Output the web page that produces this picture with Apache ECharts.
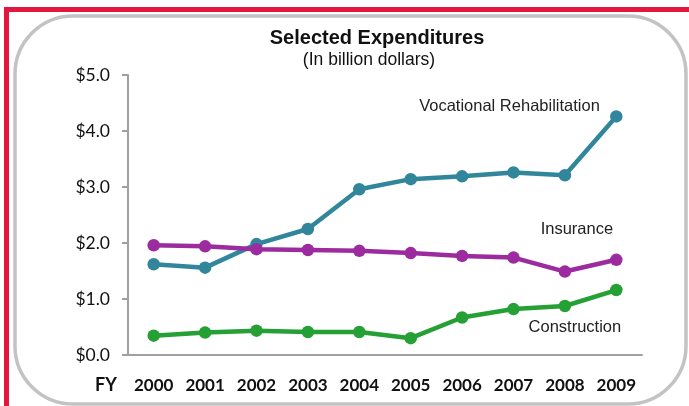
<!DOCTYPE html>
<html>
<head>
<meta charset="utf-8">
<script src="https://cdn.jsdelivr.net/npm/echarts@6/dist/echarts.min.js"></script>
<style>
html,body{margin:0;padding:0;background:#fff;}
#c{width:689px;height:406px;}
</style>
</head>
<body>
<div id="c"></div>
<script>
var years = ['2000','2001','2002','2003','2004','2005','2006','2007','2008','2009'];
var vocRehab = [1.62, 1.56, 1.98, 2.25, 2.96, 3.14, 3.19, 3.26, 3.21, 4.26];
var insurance = [1.96, 1.94, 1.89, 1.875, 1.86, 1.82, 1.77, 1.74, 1.49, 1.70];
var construction = [0.345, 0.40, 0.435, 0.41, 0.41, 0.30, 0.67, 0.82, 0.875, 1.16];
var yTicks = [0, 1, 2, 3, 4, 5];
var seriesNames = ['Vocational Rehabilitation', 'Insurance', 'Construction'];

var chart = echarts.init(document.getElementById('c'), null, {renderer:'canvas'});

function mkSeries(name, data, color, labelCoord, offset) {
  return {
    name: name,
    type: 'line',
    data: data,
    symbol: 'circle',
    symbolSize: 12.5,
    lineStyle: {color: color, width: 4.5},
    itemStyle: {color: color},
    z: 3,
    markPoint: {
      symbol: 'circle',
      symbolSize: 0,
      silent: true,
      data: [{coord: labelCoord}],
      label: {
        show: true,
        formatter: name,
        position: 'inside',
        offset: offset,
        color: '#222',
        fontFamily: 'Liberation Sans, Arial, sans-serif',
        fontSize: 16.5
      }
    }
  };
}

chart.setOption({
  animation: false,
  backgroundColor: '#fff',
  title: [{
    text: 'Selected Expenditures',
    left: 372,
    textAlign: 'center',
    top: 23,
    textStyle: {fontFamily: 'Liberation Sans, Arial, sans-serif', fontWeight: 'bold', fontSize: 20, color: '#111'}
  }, {
    text: '(In billion dollars)',
    left: 364,
    textAlign: 'center',
    top: 46,
    textStyle: {fontFamily: 'Liberation Sans, Arial, sans-serif', fontWeight: 'normal', fontSize: 17.5, color: '#111'}
  }],
  graphic: [
    {type: 'rect', shape: {x: 4, y: 7, width: 685, height: 5}, style: {fill: '#e3173e'}, z: 0},
    {type: 'rect', shape: {x: 4, y: 7, width: 5, height: 399}, style: {fill: '#e3173e'}, z: 0},
    {type: 'rect', shape: {x: 15, y: 16, width: 671, height: 388, r: 58}, style: {fill: 'none', stroke: '#c3c3c3', lineWidth: 3.5}, z: 0},
    {type: 'text', left: 95, top: 376, style: {text: 'FY', font: 'bold 18px Lato, sans-serif', fill: '#111'}, z: 5}
  ],
  grid: {left: 128, right: 47, top: 75, bottom: 51, containLabel: false},
  xAxis: {
    type: 'category',
    data: years,
    boundaryGap: true,
    axisLine: {lineStyle: {color: '#a0a0a0', width: 2}},
    axisTick: {show: false},
    axisLabel: {margin: 22, fontFamily: 'Lato, sans-serif', fontWeight: 'bold', fontSize: 17, color: '#111'}
  },
  yAxis: {
    type: 'value',
    min: yTicks[0],
    max: yTicks[yTicks.length - 1],
    interval: 1,
    axisLine: {show: true, lineStyle: {color: '#a0a0a0', width: 2}},
    axisTick: {show: true, length: 6, lineStyle: {color: '#a0a0a0', width: 2}},
    splitLine: {show: false},
    axisLabel: {margin: 18, fontFamily: 'Lato, sans-serif', fontSize: 17.5, color: '#111',
      formatter: function (v) { return '$' + v.toFixed(1); }}
  },
  series: [
    mkSeries(seriesNames[0], vocRehab, '#31869c', ['2007', 4.43], [-4, 0]),
    mkSeries(seriesNames[1], insurance, '#9c2ba0', ['2008', 2.25], [12, 0]),
    mkSeries(seriesNames[2], construction, '#24a034', ['2008', 0.5], [10, 0])
  ]
});
</script>
</body>
</html>
